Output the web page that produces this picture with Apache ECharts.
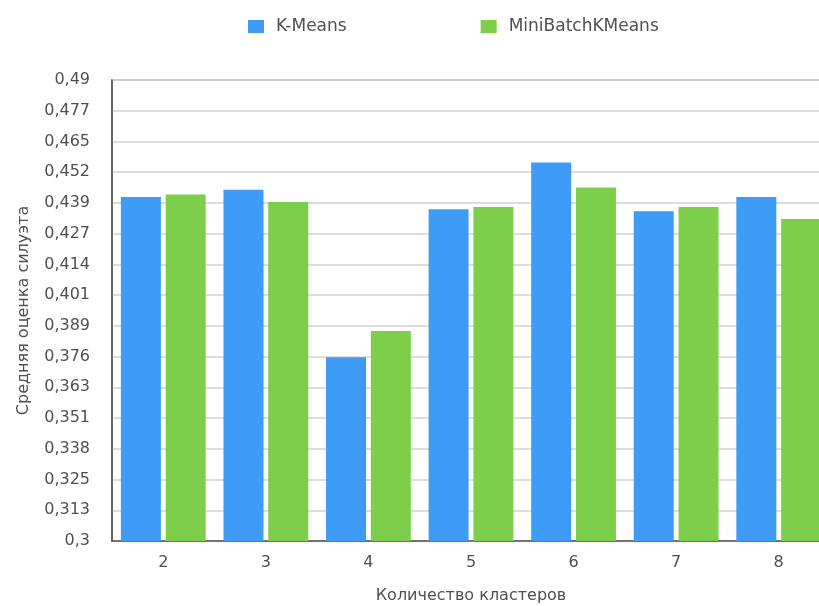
<!DOCTYPE html>
<html>
<head>
<meta charset="utf-8">
<script src="https://cdn.jsdelivr.net/npm/echarts@6/dist/echarts.min.js"></script>
<style>
  html, body { margin: 0; padding: 0; background: #ffffff; }
  #chart { width: 819px; height: 606px; }
</style>
</head>
<body>
<div id="chart"></div>
<script>
// Cluster counts on the x axis
const categories = ['2', '3', '4', '5', '6', '7', '8'];

// Mean silhouette score per clustering method
const kMeans = [0.4418, 0.4448, 0.3757, 0.4367, 0.4560, 0.4359, 0.4418];
const miniBatchKMeans = [0.4428, 0.4397, 0.3866, 0.4377, 0.4457, 0.4377, 0.4327];

// Value axis labels, bottom to top
const yTickLabels = ['0,3', '0,313', '0,325', '0,338', '0,351', '0,363', '0,376', '0,389',
  '0,401', '0,414', '0,427', '0,439', '0,452', '0,465', '0,477', '0,49'];

const yMin = 0.3;
const yMax = 0.49;
const yStep = (yMax - yMin) / (yTickLabels.length - 1);

const font = '"DejaVu Sans", Verdana, sans-serif';
const fontSize = 16;
const textColor = '#505050';

const chart = echarts.init(document.getElementById('chart'), null, { renderer: 'canvas' });

chart.setOption({
  animation: false,
  backgroundColor: '#ffffff',
  textStyle: { fontFamily: font },
  legend: {
    top: 13,
    left: 243,
    itemGap: 134,
    itemWidth: 16,
    itemHeight: 13,
    icon: 'rect',
    textStyle: { fontFamily: font, fontSize: 17, color: textColor, padding: [0, 0, 0, 7] },
    data: ['K-Means', 'MiniBatchKMeans']
  },
  grid: {
    left: 112,
    right: -11,
    top: 80,
    bottom: 65,
    outerBoundsMode: 'none',
    show: true,
    borderColor: '#5a5a5a',
    borderWidth: 1.5,
    backgroundColor: 'transparent'
  },
  xAxis: {
    type: 'category',
    data: categories,
    name: 'Количество кластеров',
    nameLocation: 'middle',
    nameGap: 47,
    nameTextStyle: { fontFamily: font, fontSize: fontSize, color: textColor },
    axisLine: { show: true, lineStyle: { color: '#5a5a5a', width: 1.5 } },
    axisTick: { show: false },
    axisLabel: { margin: 14, fontFamily: font, fontSize: fontSize, color: textColor },
    splitLine: { show: false }
  },
  yAxis: {
    type: 'value',
    min: yMin,
    max: yMax,
    interval: yStep,
    name: 'Средняя оценка силуэта',
    nameLocation: 'middle',
    nameRotate: 90,
    nameGap: 80,
    nameTextStyle: { fontFamily: font, fontSize: fontSize, color: textColor },
    axisLine: { show: true, lineStyle: { color: '#5a5a5a', width: 1.5 } },
    axisTick: { show: false },
    axisLabel: {
      margin: 22,
      fontFamily: font,
      fontSize: fontSize,
      color: textColor,
      formatter: function (v) {
        const i = Math.round((v - yMin) / yStep);
        return yTickLabels[i] !== undefined ? yTickLabels[i] : '';
      }
    },
    splitLine: { show: true, lineStyle: { color: '#d2d2d2', width: 1.5 } }
  },
  series: [
    {
      name: 'K-Means',
      type: 'bar',
      data: kMeans,
      barWidth: 40,
      barGap: '12%',
      itemStyle: { color: '#3f9cf6' }
    },
    {
      name: 'MiniBatchKMeans',
      type: 'bar',
      data: miniBatchKMeans,
      barWidth: 40,
      itemStyle: { color: '#7dcf4b' }
    }
  ]
});
</script>
</body>
</html>
